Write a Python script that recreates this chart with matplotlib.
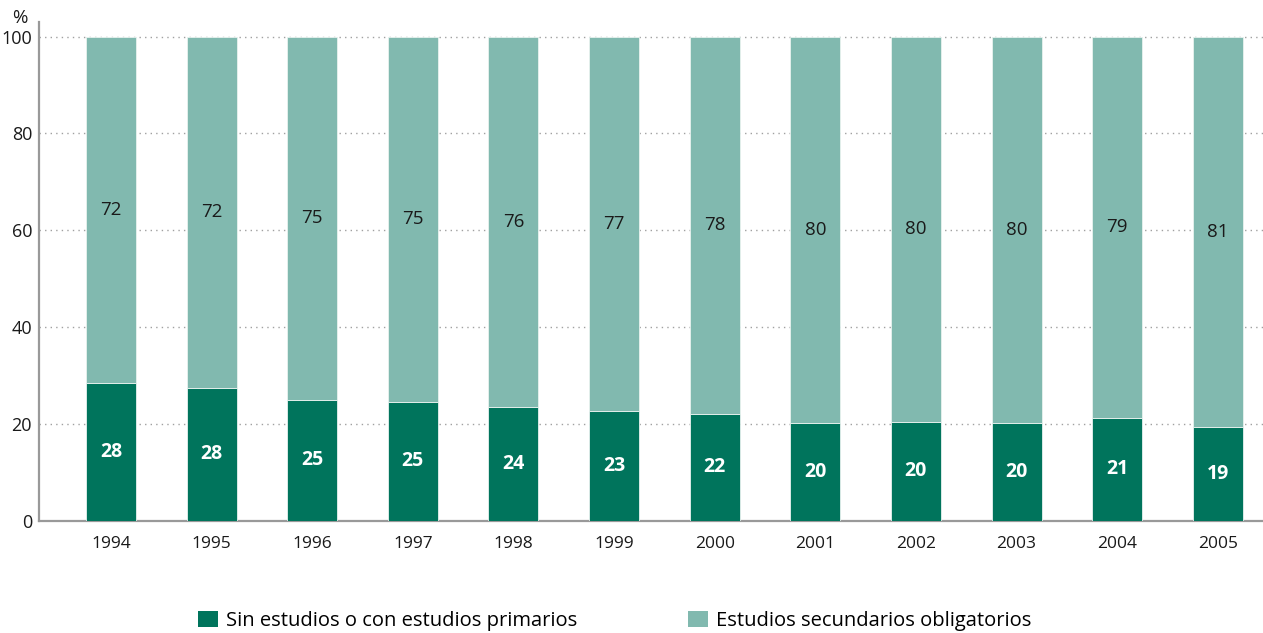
import numpy as np
import matplotlib
matplotlib.use('Agg')
import matplotlib.pyplot as plt
from matplotlib.patches import Patch

plt.rcParams['font.family'] = ['Open Sans', 'DejaVu Sans']

# datos
anios = ['1994', '1995', '1996', '1997', '1998', '1999',
         '2000', '2001', '2002', '2003', '2004', '2005']
primarios = [28.5, 27.5, 25.0, 24.6, 23.6, 22.7, 22.1, 20.2, 20.5, 20.2, 21.3, 19.4]
secundarios = [100 - v for v in primarios]
etiq_primarios = [28, 28, 25, 25, 24, 23, 22, 20, 20, 20, 21, 19]
etiq_secundarios = [72, 72, 75, 75, 76, 77, 78, 80, 80, 80, 79, 81]

verde = '#00745c'
verde_claro = '#81b9af'
gris = '#a0a0a0'

fig = plt.figure(figsize=(12.63, 6.33), dpi=100)
ax = fig.add_axes([39 / 1263, 1 - 521 / 633, 1 - 39 / 1263, 499 / 633])

x = np.arange(len(anios))
ancho = 0.497
ax.bar(x, primarios, ancho, color=verde, edgecolor='#e8f2ef', linewidth=0.6, zorder=3)
ax.bar(x, secundarios, ancho, bottom=primarios, color=verde_claro,
       edgecolor='#e8f2ef', linewidth=0.6, zorder=3)

for i in range(len(anios)):
    ax.text(x[i], primarios[i] / 2, str(etiq_primarios[i]), ha='center', va='center',
            color='white', fontsize=14, fontweight='bold', zorder=4)
    ax.text(x[i], primarios[i] + secundarios[i] / 2, str(etiq_secundarios[i]),
            ha='center', va='center', color='#1a1a1a', fontsize=13.5, zorder=4)

ax.set_xlim(-0.716, 11.45)
ax.set_ylim(0, 103)
ax.set_yticks([0, 20, 40, 60, 80, 100])
ax.set_xticks(x)
ax.set_xticklabels(anios)
ax.tick_params(axis='both', length=0, labelsize=12.5, colors='#1a1a1a')
ax.tick_params(axis='y', labelsize=13, pad=5)
ax.tick_params(axis='x', pad=11)

for y in [20, 40, 60, 80, 100]:
    ax.axhline(y, color=gris, linestyle=(0, (1, 3)), linewidth=1, zorder=1)

for s in ['top', 'right']:
    ax.spines[s].set_visible(False)
for s in ['left', 'bottom']:
    ax.spines[s].set_color('#999999')
    ax.spines[s].set_linewidth(1.6)

fig.text(20 / 1263, 1 - 18 / 633, '%', ha='center', va='center', fontsize=13.5, color='#1a1a1a')

handles = [Patch(facecolor=verde, label='Sin estudios o con estudios primarios'),
           Patch(facecolor=verde_claro, label='Estudios secundarios obligatorios')]
fig.legend(handles=handles, loc='center left', bbox_to_anchor=(198 / 1263, 1 - 621 / 633),
           ncol=2, frameon=False, fontsize=14.5, handlelength=1.0, handleheight=0.85,
           handletextpad=0.4, columnspacing=5.5, borderpad=0, borderaxespad=0)

fig.savefig('out.png', dpi=100)
